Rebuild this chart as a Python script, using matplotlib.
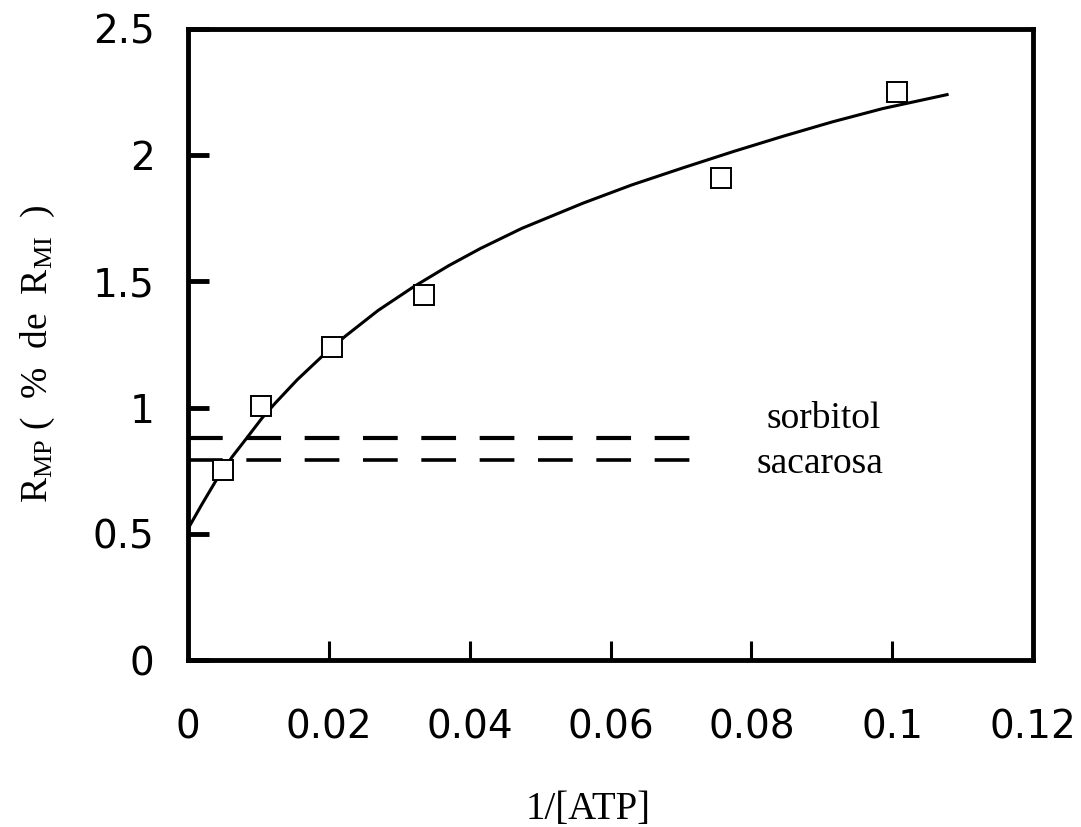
import matplotlib
matplotlib.use("Agg")
import matplotlib.pyplot as plt

# Measured points: R_MP against 1/[ATP]
atp_inv = [0.0050, 0.0104, 0.0205, 0.0335, 0.0757, 0.1007]
r_mp = [0.754, 1.008, 1.242, 1.448, 1.909, 2.250]

# Fitted curve, read along its path
curve_x = [0.0, 0.0020, 0.0040, 0.0063, 0.0085, 0.0105, 0.0124, 0.0155,
           0.0190, 0.0223, 0.0270, 0.0320, 0.0370, 0.0415, 0.0474, 0.0561,
           0.0630, 0.0703, 0.0775, 0.0845, 0.0915, 0.0987, 0.1078]
curve_y = [0.520, 0.618, 0.712, 0.806, 0.885, 0.958, 1.018, 1.110,
           1.202, 1.282, 1.385, 1.478, 1.562, 1.630, 1.710, 1.810,
           1.882, 1.950, 2.015, 2.075, 2.132, 2.185, 2.240]

# Reference levels (dashed)
ref_names = ["sorbitol", "sacarosa"]
ref_levels = [0.878, 0.791]
ref_end = 0.0725

x_ticks = [0, 0.02, 0.04, 0.06, 0.08, 0.1, 0.12]
x_labels = ["0", "0.02", "0.04", "0.06", "0.08", "0.1", "0.12"]
y_ticks = [0, 0.5, 1, 1.5, 2, 2.5]
y_labels = ["0", "0.5", "1", "1.5", "2", "2.5"]

plt.rcParams["mathtext.fontset"] = "custom"
plt.rcParams["mathtext.rm"] = "Liberation Serif"
plt.rcParams["mathtext.it"] = "Liberation Serif:italic"
plt.rcParams["lines.scale_dashes"] = False

W, H = 1081, 827
fig = plt.figure(figsize=(W / 100, H / 100), dpi=100)
ax = fig.add_axes([188 / W, 167 / H, 845 / W, 631 / H])

ax.set_xlim(0, 0.12)
ax.set_ylim(0, 2.5)

for spine in ax.spines.values():
    spine.set_linewidth(3.5)

# dashed reference lines
for lvl, lw in zip(ref_levels, [3.0, 2.6]):
    ax.plot([0, ref_end], [lvl, lvl], color="black", lw=lw,
            linestyle=(0, (25, 17)), solid_capstyle="butt", zorder=2)

ax.plot(curve_x, curve_y, color="black", lw=2.2, zorder=3,
        solid_joinstyle="round")
ax.plot(atp_inv, r_mp, linestyle="none", marker="s", markersize=14,
        markerfacecolor="white", markeredgecolor="black",
        markeredgewidth=1.4, zorder=4)

ax.text(0.0902, 0.957, ref_names[0], ha="center", va="center",
        family="Liberation Serif", fontsize=27)
ax.text(0.0898, 0.779, ref_names[1], ha="center", va="center",
        family="Liberation Serif", fontsize=27)

ax.set_xticks(x_ticks)
ax.set_xticklabels(x_labels, family="DejaVu Sans", fontsize=28)
ax.set_yticks(y_ticks)
ax.set_yticklabels(y_labels, family="DejaVu Sans", fontsize=28)
ax.tick_params(axis="x", direction="in", length=14, width=2.2, pad=35)
ax.tick_params(axis="y", direction="in", length=15, width=3.5, pad=24)

fig.text(588 / W, 1 - 810 / H, "1/[ATP]", ha="center", va="center",
         family="Liberation Serif", fontsize=28)
fig.text(38 / W, 1 - 354 / H,
         r"R$_{\mathrm{MP}}$ (  %  de  R$_{\mathrm{MI}}$  )",
         rotation=90, ha="center", va="center",
         family="Liberation Serif", fontsize=27)

fig.savefig("out.png", dpi=100)
